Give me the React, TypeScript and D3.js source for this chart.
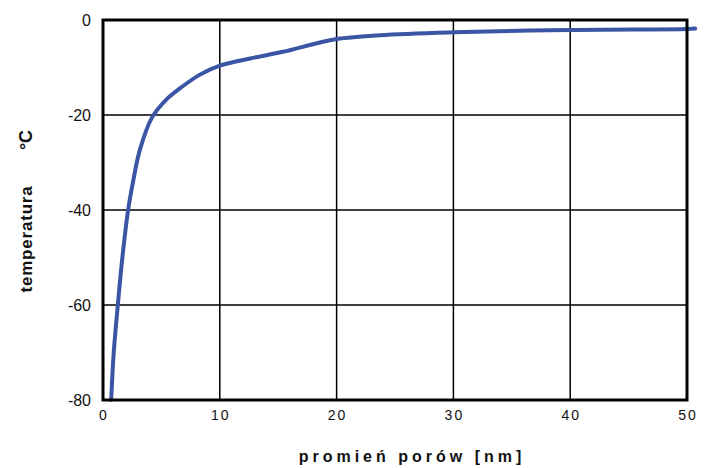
import React, { useEffect, useRef } from "react";
import * as d3 from "d3";

// pore radius [nm] and freezing temperature [°C]
const radius = [0.7, 0.92, 1.27, 1.66, 2.15, 2.6, 3.15, 4.2, 5.4, 6.8, 8.3, 10, 12.6, 15.4, 18.3, 20, 23.7, 30, 40, 50, 50.7];
const temperature = [-80, -70, -60, -50, -40, -33.7, -27.4, -20.5, -16.8, -14, -11.5, -9.6, -8.1, -6.7, -4.9, -4.0, -3.2, -2.6, -2.1, -1.9, -1.8];

const xTicks = [0, 10, 20, 30, 40, 50];
const yTicks = [0, -20, -40, -60, -80];

const xTitle = "promień porów [nm]";
const yTitle = "temperatura";
const yUnit = "°C";

const W = 704, H = 468;

export default function App() {
  const ref = useRef<SVGSVGElement>(null);

  useEffect(() => {
    const svg = d3.select(ref.current);
    svg.selectAll("*").remove();

    const margin = { top: 20, right: 17, bottom: 68, left: 103 };
    const width = W - margin.left - margin.right;
    const height = H - margin.top - margin.bottom;

    const x = d3.scaleLinear().domain([0, 50]).range([0, width]);
    const y = d3.scaleLinear().domain([-80, 0]).range([height, 0]);

    const g = svg.append("g")
      .attr("transform", "translate(" + margin.left + "," + margin.top + ")");

    // grid
    g.append("g")
      .selectAll("line")
      .data(xTicks.slice(1, -1))
      .join("line")
      .attr("x1", d => x(d)).attr("x2", d => x(d))
      .attr("y1", 0).attr("y2", height)
      .attr("stroke", "#000").attr("stroke-width", 1.5);
    g.append("g")
      .selectAll("line")
      .data(yTicks.slice(1, -1))
      .join("line")
      .attr("y1", d => y(d)).attr("y2", d => y(d))
      .attr("x1", 0).attr("x2", width)
      .attr("stroke", "#000").attr("stroke-width", 1.5);

    // curve
    const data = radius.map((r, i) => ({ r, t: temperature[i] }));
    const line = d3.line<{ r: number; t: number }>()
      .curve(d3.curveCatmullRom.alpha(0.5))
      .x(d => x(d.r))
      .y(d => y(d.t));
    g.append("path")
      .datum(data)
      .attr("fill", "none")
      .attr("stroke", "#3b55a5")
      .attr("stroke-width", 4)
      .attr("stroke-linecap", "round")
      .attr("d", line);

    // frame
    g.append("rect")
      .attr("x", 0).attr("y", 0)
      .attr("width", width).attr("height", height)
      .attr("fill", "none")
      .attr("stroke", "#000").attr("stroke-width", 3);

    // tick labels
    g.append("g")
      .selectAll("text")
      .data(xTicks)
      .join("text")
      .attr("x", d => x(d) + 1)
      .attr("y", height + 20)
      .attr("text-anchor", "middle")
      .attr("font-family", "Liberation Sans, Arial, sans-serif")
      .attr("font-size", 14)
      .attr("letter-spacing", 2)
      .attr("fill", "#111")
      .text(d => d);
    g.append("g")
      .selectAll("text")
      .data(yTicks)
      .join("text")
      .attr("x", -12)
      .attr("y", d => y(d))
      .attr("dy", "0.35em")
      .attr("text-anchor", "end")
      .attr("font-family", "Liberation Sans, Arial, sans-serif")
      .attr("font-size", 16)
      .attr("fill", "#111")
      .text(d => d);

    // axis titles
    svg.append("text")
      .attr("x", 412)
      .attr("y", 462)
      .attr("text-anchor", "middle")
      .attr("font-family", "Liberation Sans, Arial, sans-serif")
      .attr("font-size", 16)
      .attr("font-weight", "bold")
      .attr("letter-spacing", 4)
      .attr("fill", "#111")
      .text(xTitle);
    svg.append("text")
      .attr("transform", "translate(32,239) rotate(-90)")
      .attr("text-anchor", "middle")
      .attr("font-family", "Liberation Sans, Arial, sans-serif")
      .attr("font-size", 17)
      .attr("font-weight", "bold")
      .attr("letter-spacing", 0.8)
      .attr("fill", "#111")
      .text(yTitle);
    svg.append("text")
      .attr("transform", "translate(32,140) rotate(-90)")
      .attr("text-anchor", "middle")
      .attr("font-family", "Liberation Sans, Arial, sans-serif")
      .attr("font-size", 18)
      .attr("font-weight", "bold")
      .attr("fill", "#111")
      .text(yUnit);
  }, []);

  return (
    <svg ref={ref} width={W} height={H}
      style={{ position: "absolute", left: 0, top: 0, background: "#fff" }} />
  );
}
